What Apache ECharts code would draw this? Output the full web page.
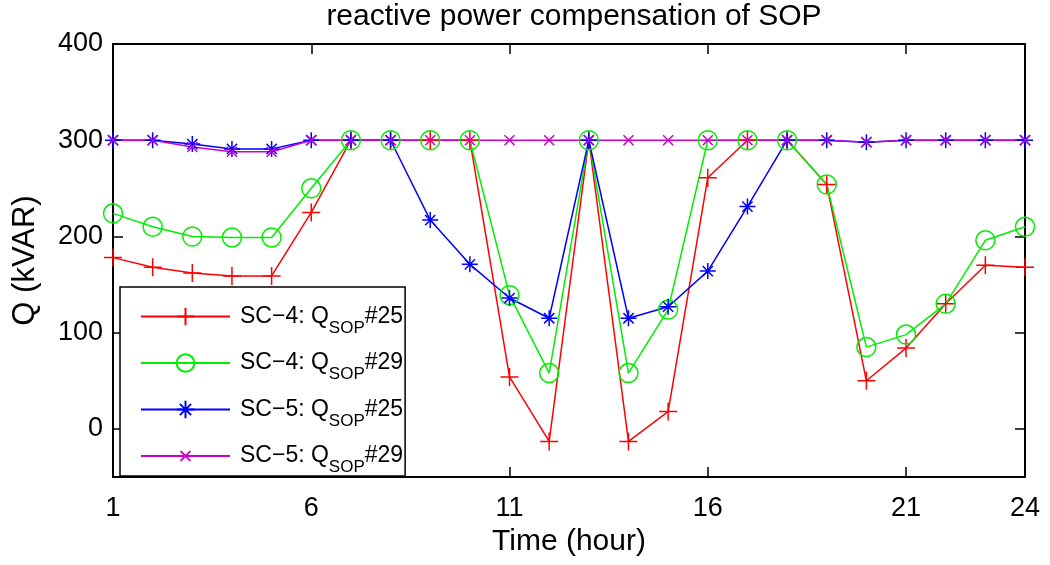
<!DOCTYPE html>
<html>
<head>
<meta charset="utf-8">
<script src="https://cdn.jsdelivr.net/npm/echarts@6/dist/echarts.min.js"></script>
<style>html,body{margin:0;padding:0;background:#fff;}#c{width:1050px;height:565px;}</style>
</head>
<body>
<div id="c"></div>
<script>
var hours = [1,2,3,4,5,6,7,8,9,10,11,12,13,14,15,16,17,18,19,20,21,22,23,24];
var sc4_25 = [178,168,162,159,159,225,300,300,300,300,54,-13,300,-13,18,261,300,300,254,50,84,130,170,168];
var sc4_29 = [224,210,200,199,199,250,300,300,300,300,139,58,300,58,124,300,300,300,254,85,98,130,196,210];
var sc5_25 = [300,300,296,291,291,300,300,300,217,171,136,115,300,115,127,164,231,300,300,298,300,300,300,300];
var sc5_29 = [300,300,293,288,288,300,300,300,300,300,300,300,300,300,300,300,300,300,300,298,300,300,300,300];
var xTicks = [1,6,11,16,21,24];
var yTicks = [0,100,200,300,400];
var seriesNames = ['SC-4 #25','SC-4 #29','SC-5 #25','SC-5 #29'];
var legendPre = ['SC\u22124: Q','SC\u22124: Q','SC\u22125: Q','SC\u22125: Q'];
var legendSub = ['SOP','SOP','SOP','SOP'];
var legendPost = ['#25','#29','#25','#29'];

var FONT = 'Liberation Sans';
var chart = echarts.init(document.getElementById('c'), null, {renderer:'canvas'});

function mk(p){
  return p.map(function(v,i){return [hours[i], v];});
}
var plusPath = 'path://M5,0L5,10M0,5L10,5';
var starPath = 'path://M5,0L5,10M0,5L10,5M1.8,1.8L8.2,8.2M8.2,1.8L1.8,8.2';
var xPath = 'path://M0,0M18,18M4,4L14,14M14,4L4,14';

function ser(name, data, color, symbol, size){
  return {
    name: name, type: 'line', data: mk(data),
    symbol: symbol, symbolSize: size, showSymbol: true,
    lineStyle: {color: color, width: 1.5},
    itemStyle: {color: 'rgba(0,0,0,0)', borderColor: color, borderWidth: 1.5},
    emphasis: {disabled: true},
    animation: false, z: 3
  };
}

var axisCommon = {
  axisLine: {show: true, onZero: false, lineStyle: {color: '#000', width: 2}},
  splitLine: {show: false}
};

var option = {
  backgroundColor: '#fff',
  animation: false,
  title: {
    text: 'reactive power compensation of SOP',
    left: 569, top: -3, textAlign: 'center',
    textStyle: {fontFamily: FONT, fontSize: 30, fontWeight: 'normal', color: '#000', lineHeight: 30}
  },
  grid: {left: 113, right: 25, top: 44, bottom: 88, containLabel: false},
  xAxis: [
    Object.assign({}, axisCommon, {
      type: 'value', min: 1, max: 24, position: 'bottom',
      name: 'Time (hour)', nameLocation: 'middle', nameGap: 48,
      nameTextStyle: {fontFamily: FONT, fontSize: 30, color: '#000', lineHeight: 30},
      axisTick: {show: true, inside: true, length: 10, lineStyle: {color: '#000', width: 1.5}, customValues: xTicks},
      axisLabel: {show: true, fontFamily: FONT, fontSize: 27, color: '#000', margin: 18, customValues: xTicks}
    }),
    Object.assign({}, axisCommon, {
      type: 'value', min: 1, max: 24, position: 'top',
      axisTick: {show: true, inside: true, length: 10, lineStyle: {color: '#000', width: 1.5}, customValues: xTicks},
      axisLabel: {show: false}
    })
  ],
  yAxis: [
    Object.assign({}, axisCommon, {
      type: 'value', min: -50, max: 400, position: 'left',
      name: 'Q (kVAR)', nameLocation: 'middle', nameGap: 72, nameRotate: 90,
      nameTextStyle: {fontFamily: FONT, fontSize: 31, color: '#000', lineHeight: 31},
      axisTick: {show: true, inside: true, length: 10, lineStyle: {color: '#000', width: 1.5}, customValues: yTicks},
      axisLabel: {show: true, fontFamily: FONT, fontSize: 27, color: '#000', margin: 10, customValues: yTicks}
    }),
    Object.assign({}, axisCommon, {
      type: 'value', min: -50, max: 400, position: 'right',
      axisTick: {show: true, inside: true, length: 10, lineStyle: {color: '#000', width: 1.5}, customValues: yTicks},
      axisLabel: {show: false}
    })
  ],
  legend: {
    orient: 'vertical', left: 120, top: 287,
    padding: [18, 2, 0, 20],
    itemWidth: 89, itemHeight: 22, itemGap: 15,
    backgroundColor: '#fff', borderColor: '#000', borderWidth: 1.5,
    selectedMode: false, z: 10,
    data: seriesNames,
    formatter: function(name){
      var i = seriesNames.indexOf(name);
      return '{n|' + legendPre[i] + '}{s|' + legendSub[i] + '}{m|' + legendPost[i] + '}';
    },
    textStyle: {
      fontFamily: FONT, color: '#000', fontSize: 23,
      rich: {
        n: {fontFamily: FONT, fontSize: 23, color: '#000', lineHeight: 40, padding: [0,0,0,5]},
        s: {fontFamily: FONT, fontSize: 17, color: '#000', lineHeight: 17, verticalAlign: 'bottom'},
        m: {fontFamily: FONT, fontSize: 23, color: '#000', lineHeight: 40}
      }
    }
  },
  series: [
    ser(seriesNames[0], sc4_25, '#ff0000', plusPath, 18),
    ser(seriesNames[1], sc4_29, '#00ee00', 'circle', 19),
    ser(seriesNames[2], sc5_25, '#0000ff', starPath, 16),
    ser(seriesNames[3], sc5_29, '#cc00cc', xPath, 18)
  ]
};
chart.setOption(option);
</script>
</body>
</html>
